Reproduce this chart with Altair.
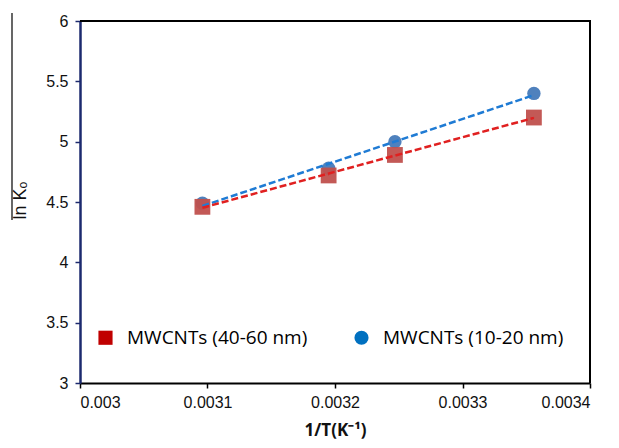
import altair as alt
import pandas as pd

# Data
inv_T = [0.003096, 0.003195, 0.003247, 0.003356]
lnK_40_60 = [4.46, 4.72, 4.89, 5.20]
lnK_10_20 = [4.49, 4.78, 5.00, 5.40]
series_names = ["MWCNTs (40-60 nm)", "MWCNTs (10-20 nm)"]

x_ticks = [0.003, 0.0031, 0.0032, 0.0033, 0.0034]
y_ticks = [3, 3.5, 4, 4.5, 5, 5.5, 6]

rows = []
for xv, yv in zip(inv_T, lnK_40_60):
    rows.append({"x": xv, "y": yv, "series": series_names[0]})
for xv, yv in zip(inv_T, lnK_10_20):
    rows.append({"x": xv, "y": yv, "series": series_names[1]})
df = pd.DataFrame(rows)

W, H = 510, 362

xscale = alt.Scale(domain=[0.003, 0.0034], nice=False, zero=False)
yscale = alt.Scale(domain=[3, 6], nice=False, zero=False)

xaxis = alt.Axis(values=x_ticks, format="~g", title="1/T(K⁻¹)", grid=False,
                 domainColor="black", domainWidth=2, tickColor="black", tickWidth=1.5,
                 tickSize=5, labelPadding=6, labelFont="Liberation Sans", labelFontSize=16,
                 labelColor="#111", titleFont="Open Sans", titleFontSize=17,
                 titleFontWeight="bold", titleColor="#111", titlePadding=12)
yaxis = alt.Axis(values=y_ticks, format="~g", title="ln Kₒ", grid=False,
                 domainColor="#1c2a6e", domainWidth=2.5, tickColor="#1c2a6e", tickWidth=1.5,
                 tickSize=5, labelPadding=7, labelFont="Liberation Sans", labelFontSize=16,
                 labelColor="#111", titleFont="Liberation Sans", titleFontSize=18,
                 titleFontWeight="normal", titleColor="#111", titleAngle=-90,
                 titleX=-60, titleY=179, titleAlign="center", titleBaseline="middle")

base = alt.Chart(df)

def sub(name):
    return base.transform_filter(alt.datum.series == name)

# tiny layer (hidden under the visible markers) carrying the legend
legend_layer = base.mark_point(filled=True, size=1, opacity=1).encode(
    x=alt.X("x:Q", scale=xscale, axis=xaxis),
    y=alt.Y("y:Q", scale=yscale, axis=yaxis),
    color=alt.Color("series:N", scale=alt.Scale(domain=series_names, range=["#C00000", "#0070C0"]),
                    legend=alt.Legend(title=None, orient="none", legendX=16, legendY=307,
                                      direction="horizontal", columns=2, columnPadding=44,
                                      symbolSize=200, symbolOpacity=1, labelOffset=12,
                                      labelFont="Open Sans", labelFontSize=19, labelColor="#000",
                                      labelLimit=400, padding=0, symbolStrokeWidth=0)),
    shape=alt.Shape("series:N", scale=alt.Scale(domain=series_names, range=["square", "circle"])),
)

blue_pts = sub(series_names[1]).mark_point(shape="circle", filled=True, size=180,
                                           color="#4F81BD", opacity=1).encode(
    x=alt.X("x:Q", scale=xscale), y=alt.Y("y:Q", scale=yscale))
red_pts = sub(series_names[0]).mark_point(shape="square", filled=True, size=250,
                                          color="#C0504D", opacity=0.95).encode(
    x=alt.X("x:Q", scale=xscale), y=alt.Y("y:Q", scale=yscale))

blue_line = sub(series_names[1]).transform_regression("x", "y").mark_line(
    color="#1F7BD4", strokeWidth=2.5, strokeDash=[7, 3]).encode(
    x=alt.X("x:Q", scale=xscale), y=alt.Y("y:Q", scale=yscale))
red_line = sub(series_names[0]).transform_regression("x", "y").mark_line(
    color="#E02020", strokeWidth=2.5, strokeDash=[7, 3]).encode(
    x=alt.X("x:Q", scale=xscale), y=alt.Y("y:Q", scale=yscale))

frame_data = alt.Data(values=[{"k": 1}])
top_rule = alt.Chart(frame_data).mark_rule(color="black", strokeWidth=2).encode(
    x=alt.value(0), x2=alt.value(W + 1), y=alt.value(0))
right_rule = alt.Chart(frame_data).mark_rule(color="black", strokeWidth=2).encode(
    x=alt.value(W), y=alt.value(0), y2=alt.value(H))
side_line = alt.Chart(frame_data).mark_rule(color="black", strokeWidth=1.2).encode(
    x=alt.value(-68), y=alt.value(-8), y2=alt.value(199))

chart = alt.layer(
    legend_layer, top_rule, right_rule, side_line,
    blue_pts, red_pts, blue_line, red_line
).properties(
    width=W, height=H,
    autosize=alt.AutoSizeParams(type="none"),
    padding={"left": 80, "top": 21, "right": 29, "bottom": 65},
).configure_view(strokeWidth=0).configure(background="white")

chart.save("out.html", embed_options={"renderer": "svg", "actions": False})
